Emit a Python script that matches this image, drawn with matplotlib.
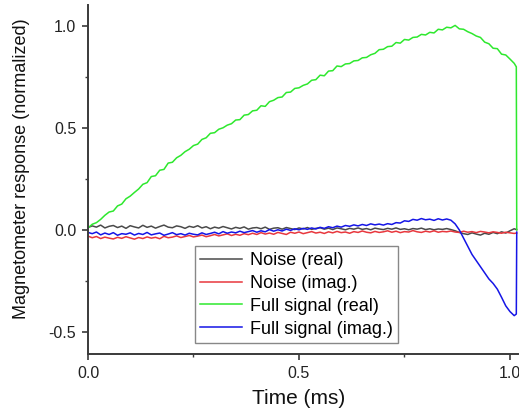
import numpy as np
import matplotlib
matplotlib.use("Agg")
import matplotlib.pyplot as plt
from matplotlib.ticker import MultipleLocator

plt.rcParams['font.family'] = ['Liberation Sans', 'DejaVu Sans']

# sample times (ms), step 0.01 from 0.00 to 1.01, then the final two samples at the cutoff
time_main = np.round(np.arange(102) * 0.01, 3)
time_tail = [1.015, 1.016]
time_ms = np.concatenate([time_main, time_tail])

full_real = [
    0.010, 0.028, 0.036, 0.052, 0.072, 0.088, 0.093, 0.118, 0.127, 0.153,
    0.166, 0.184, 0.201, 0.224, 0.232, 0.262, 0.266, 0.293, 0.297, 0.328,
    0.332, 0.354, 0.366, 0.384, 0.396, 0.414, 0.421, 0.444, 0.452, 0.474,
    0.477, 0.494, 0.501, 0.514, 0.521, 0.539, 0.541, 0.563, 0.566, 0.584,
    0.587, 0.609, 0.606, 0.629, 0.636, 0.649, 0.652, 0.674, 0.676, 0.694,
    0.697, 0.709, 0.716, 0.734, 0.737, 0.759, 0.756, 0.779, 0.781, 0.804,
    0.801, 0.814, 0.816, 0.829, 0.831, 0.844, 0.846, 0.859, 0.866, 0.884,
    0.886, 0.899, 0.901, 0.919, 0.916, 0.934, 0.931, 0.944, 0.946, 0.959,
    0.956, 0.969, 0.966, 0.984, 0.981, 0.994, 0.991, 1.003, 0.986, 0.984,
    0.972, 0.963, 0.951, 0.944, 0.921, 0.913, 0.891, 0.889, 0.862, 0.858,
    0.838, 0.817, 0.800, 0.000,
]

full_imag = [
    -0.012, -0.018, -0.010, -0.024, -0.015, -0.022, -0.013, -0.026, -0.018, -0.021,
    -0.014, -0.025, -0.017, -0.022, -0.012, -0.024, -0.019, -0.015, -0.026, -0.020,
    -0.013, -0.023, -0.018, -0.025, -0.016, -0.021, -0.024, -0.014, -0.022, -0.017,
    -0.011, -0.019, -0.008, -0.016, -0.010, -0.014, -0.006, -0.013, -0.008, -0.003,
    -0.011, -0.004, -0.009, 0.002, -0.006, 0.001, -0.005, 0.004, -0.002, 0.006,
    0.001, 0.008, 0.003, 0.010, 0.005, 0.013, 0.008, 0.016, 0.011, 0.019,
    0.014, 0.022, 0.018, 0.025, 0.020, 0.027, 0.022, 0.030, 0.025, 0.029,
    0.024, 0.031, 0.027, 0.036, 0.034, 0.045, 0.042, 0.052, 0.048, 0.056,
    0.050, 0.053, 0.047, 0.055, 0.049, 0.054, 0.048, 0.030, 0.000, -0.040,
    -0.080, -0.120, -0.150, -0.180, -0.210, -0.240, -0.262, -0.290, -0.330, -0.372,
    -0.400, -0.420, -0.412, -0.010,
]

noise_real = [
    0.012, 0.020, 0.014, 0.024, 0.010, 0.018, 0.022, 0.012, 0.019, 0.008,
    0.021, 0.015, 0.010, 0.023, 0.013, 0.019, 0.009, 0.017, 0.024, 0.014,
    0.011, 0.020, 0.016, 0.008, 0.018, 0.013, 0.021, 0.010, 0.016, 0.006,
    0.014, 0.009, 0.017, 0.011, 0.005, 0.013, 0.008, 0.015, 0.004, 0.010,
    0.012, 0.006, 0.014, 0.003, 0.009, 0.011, 0.004, 0.012, 0.007, 0.002,
    0.010, 0.005, 0.012, 0.003, 0.008, 0.011, 0.004, 0.009, 0.002, 0.010,
    0.006, 0.001, 0.008, 0.004, 0.010, 0.003, 0.007, 0.001, 0.009, 0.005,
    0.002, 0.008, 0.004, 0.010, 0.003, 0.006, 0.001, 0.007, 0.004, 0.009,
    0.002, 0.006, 0.001, 0.005, 0.003, 0.007, 0.002, -0.004, -0.012, -0.018,
    -0.022, -0.014, -0.020, -0.025, -0.016, -0.021, -0.012, -0.018, -0.009, -0.015,
    -0.004, 0.006, 0.002, 0.002,
]

noise_imag = [
    -0.030, -0.038, -0.032, -0.042, -0.035, -0.040, -0.044, -0.036, -0.041, -0.033,
    -0.039, -0.045, -0.037, -0.042, -0.034, -0.040, -0.036, -0.043, -0.031, -0.038,
    -0.035, -0.029, -0.037, -0.032, -0.027, -0.034, -0.030, -0.025, -0.033, -0.028,
    -0.022, -0.029, -0.024, -0.019, -0.027, -0.021, -0.026, -0.018, -0.023, -0.016,
    -0.022, -0.013, -0.020, -0.015, -0.021, -0.012, -0.017, -0.022, -0.011, -0.016,
    -0.010, -0.018, -0.013, -0.008, -0.015, -0.011, -0.017, -0.009, -0.014, -0.007,
    -0.013, -0.010, -0.016, -0.008, -0.012, -0.005, -0.011, -0.014, -0.007, -0.012,
    -0.009, -0.004, -0.011, -0.006, -0.013, -0.008, -0.010, -0.003, -0.009, -0.012,
    -0.006, -0.010, -0.004, -0.011, -0.007, -0.009, -0.005, -0.010, -0.012, -0.006,
    -0.011, -0.008, -0.013, -0.007, -0.010, -0.014, -0.009, -0.012, -0.016, -0.011,
    -0.014, -0.017, -0.015, -0.015,
]

series = [
    ("Noise (real)", noise_real, "#4a4a4a"),
    ("Noise (imag.)", noise_imag, "#e8373d"),
    ("Full signal (real)", full_real, "#2ee82e"),
    ("Full signal (imag.)", full_imag, "#1515e6"),
]

fig = plt.figure(figsize=(5.19, 4.12), dpi=100)
ax = fig.add_axes([88 / 519, (412 - 354) / 412, (518 - 88) / 519, (354 - 5) / 412])

for label, vals, color in series:
    ax.plot(time_ms, vals, color=color, lw=1.1, label=label)

ax.set_xlim(0, 1.019)
ax.set_ylim(-0.608, 1.103)
ax.xaxis.set_major_locator(MultipleLocator(0.5))
ax.xaxis.set_minor_locator(MultipleLocator(0.25))
ax.yaxis.set_major_locator(MultipleLocator(0.5))
ax.yaxis.set_minor_locator(MultipleLocator(0.25))
ax.xaxis.set_major_formatter(matplotlib.ticker.FormatStrFormatter('%.1f'))
ax.yaxis.set_major_formatter(matplotlib.ticker.FormatStrFormatter('%.1f'))

for side in ['top', 'right']:
    ax.spines[side].set_visible(False)
for side in ['left', 'bottom']:
    ax.spines[side].set_linewidth(1.4)
    ax.spines[side].set_color('#3a3a3a')

ax.tick_params(which='major', direction='out', length=4.5, width=1.2, color='#3a3a3a',
               labelsize=11.5, labelcolor='#222222', pad=4)
ax.tick_params(which='minor', direction='out', length=2.5, width=1.0, color='#3a3a3a')

ax.set_xlabel("Time (ms)", fontsize=15, color='#111111')
ax.set_ylabel("Magnetometer response (normalized)", fontsize=13, color='#111111')
ax.xaxis.set_label_coords(0.49, -0.1)
ax.yaxis.set_label_coords(-0.135, 0.53)

leg = ax.legend(loc='lower left', bbox_to_anchor=(0.249, 0.031), fontsize=13,
                frameon=True, fancybox=False, framealpha=1, edgecolor='#888888',
                handlelength=2.3, handletextpad=0.45, borderpad=0.3, labelspacing=0.33,
                borderaxespad=0)
leg.get_frame().set_linewidth(1.0)

fig.savefig("out.png", dpi=100)
